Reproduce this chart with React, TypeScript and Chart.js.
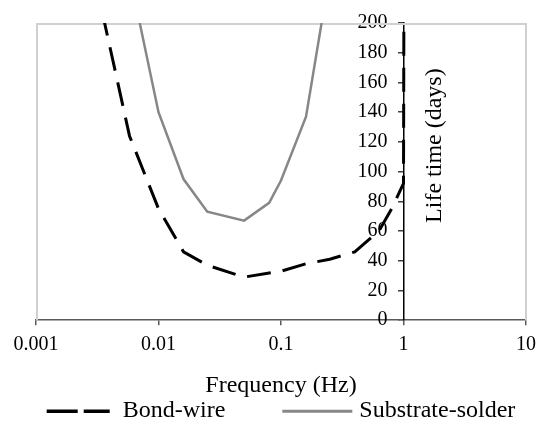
import React, { useEffect, useRef } from 'react';
import { Chart, registerables } from 'chart.js';

Chart.register(...registerables);

// ---- data ----
const bondFreq = [0.003, 0.0058, 0.01, 0.016, 0.025, 0.05, 0.1, 0.16, 0.25, 0.4, 0.63, 0.8, 1.0, 1.02];
const bondLife = [231, 124, 75, 46, 37, 29, 33, 38, 41, 46, 60, 75, 92, 400];
const solderFreq = [0.00625, 0.01, 0.016, 0.025, 0.05, 0.08, 0.1, 0.16, 0.25];
const solderLife = [220, 140, 95, 73, 67, 79, 94, 137, 233];
const xTickValues = [0.001, 0.01, 0.1, 1, 10];
const seriesLabels = ['Bond-wire', 'Substrate-solder'];
const xTitle = 'Frequency (Hz)';
const yTitle = 'Life time (days)';
const yMin = 0;
const yMax = 200;
const yStep = 20;
const yAxisCrossAt = 1;

const FONT = '"Liberation Serif", "Times New Roman", serif';
const Y_TICK_LEN = 5;
const Y_TICK_PAD = 11;

const framePlugin = {
  id: 'frame',
  beforeDatasetsDraw(chart: any) {
    const { ctx, chartArea } = chart;
    const { left, top, right, bottom } = chartArea;
    ctx.save();
    ctx.strokeStyle = '#d0d0d0';
    ctx.lineWidth = 2;
    ctx.beginPath();
    ctx.moveTo(left + 1, bottom);
    ctx.lineTo(left + 1, top + 1);
    ctx.lineTo(right, top + 1);
    ctx.lineTo(right, bottom);
    ctx.stroke();
    ctx.restore();
  },
};

// Chart.js puts labels of an axis positioned at a value right on the axis line;
// move them left of the tick marks.
const yLabelOffsetPlugin = {
  id: 'yLabelOffset',
  beforeDraw(chart: any) {
    const ys = chart.scales.y;
    if (!ys || typeof ys.getLabelItems !== 'function') return;
    const items = ys.getLabelItems();
    if (!items || items._shifted) return;
    items.forEach((it: any) => {
      if (it.options && it.options.translation) {
        it.options.translation[0] -= Y_TICK_LEN + Y_TICK_PAD;
      }
    });
    items._shifted = true;
  },
};

const yTitlePlugin = {
  id: 'yTitleRight',
  afterDraw(chart: any) {
    const { ctx, chartArea } = chart;
    const xs = chart.scales.x;
    const x = xs.getPixelForValue(yAxisCrossAt) + 31;
    const y = (chartArea.top + chartArea.bottom) / 2 - 26;
    ctx.save();
    ctx.translate(x, y);
    ctx.rotate(-Math.PI / 2);
    ctx.font = `24px ${FONT}`;
    ctx.fillStyle = '#000';
    ctx.textAlign = 'center';
    ctx.textBaseline = 'middle';
    ctx.fillText(yTitle, 0, 0);
    ctx.restore();
  },
};

const legendPlugin = {
  id: 'lineLegend',
  afterDraw(chart: any) {
    const { ctx, chartArea } = chart;
    const datasets = chart.data.datasets;
    const lineLens = [63, 70];
    const textGaps = [13, 7];
    const itemGap = 57;
    const legendLineWidths = [3.5, 3];
    const legendDashes = [[31, 6], []];
    ctx.save();
    ctx.font = `24px ${FONT}`;
    const widths = datasets.map((d: any) => ctx.measureText(d.label).width);
    let total = 0;
    datasets.forEach((_d: any, i: number) => {
      total += lineLens[i] + textGaps[i] + widths[i];
    });
    total += itemGap * (datasets.length - 1);
    let x = (chartArea.left + chartArea.right) / 2 - total / 2;
    const y = chartArea.bottom + 91;
    datasets.forEach((d: any, i: number) => {
      ctx.strokeStyle = d.borderColor;
      ctx.lineWidth = legendLineWidths[i];
      ctx.setLineDash(legendDashes[i]);
      ctx.lineCap = 'butt';
      ctx.beginPath();
      ctx.moveTo(x, y);
      ctx.lineTo(x + lineLens[i], y);
      ctx.stroke();
      ctx.setLineDash([]);
      x += lineLens[i] + textGaps[i];
      ctx.fillStyle = '#000';
      ctx.textAlign = 'left';
      ctx.textBaseline = 'middle';
      ctx.fillText(d.label, x, y);
      x += widths[i] + itemGap;
    });
    ctx.restore();
  },
};

export default function App() {
  const canvasRef = useRef<HTMLCanvasElement | null>(null);

  useEffect(() => {
    const canvas = canvasRef.current;
    if (!canvas) return;
    const chart = new Chart(canvas, {
      type: 'line',
      data: {
        datasets: [
          {
            label: seriesLabels[0],
            data: bondFreq.map((f, i) => ({ x: f, y: bondLife[i] })),
            borderColor: '#000000',
            borderWidth: 3,
            borderDash: [24, 12],
            pointRadius: 0,
            tension: 0,
            fill: false,
            clip: 0,
          },
          {
            label: seriesLabels[1],
            data: solderFreq.map((f, i) => ({ x: f, y: solderLife[i] })),
            borderColor: '#878787',
            borderWidth: 2.5,
            pointRadius: 0,
            tension: 0,
            fill: false,
            clip: 0,
          },
        ],
      },
      options: {
        responsive: false,
        animation: false,
        layout: { padding: { left: 36, right: 13, top: 14, bottom: 32 } },
        plugins: {
          legend: { display: false },
          tooltip: { enabled: false },
        },
        scales: {
          x: {
            type: 'logarithmic',
            min: xTickValues[0],
            max: xTickValues[xTickValues.length - 1],
            afterBuildTicks: (s: any) => {
              s.ticks = xTickValues.map((v) => ({ value: v }));
            },
            ticks: {
              callback: (v: any) => String(v),
              font: { family: FONT, size: 20 },
              color: '#000',
              padding: 8,
              maxRotation: 0,
              autoSkip: false,
            },
            grid: { drawOnChartArea: false, drawTicks: true, tickLength: 5, color: '#595959', lineWidth: 1.5 },
            border: { color: '#595959', width: 1.5 },
            title: {
              display: true,
              text: xTitle,
              font: { family: FONT, size: 24 },
              color: '#000',
              padding: { top: 6, bottom: 0 },
            },
          },
          y: {
            type: 'linear',
            min: yMin,
            max: yMax,
            position: { x: yAxisCrossAt } as any,
            ticks: {
              stepSize: yStep,
              font: { family: FONT, size: 20 },
              color: '#000',
              padding: Y_TICK_PAD,
            },
            grid: { drawOnChartArea: false, drawTicks: true, tickLength: Y_TICK_LEN, color: '#404040', lineWidth: 1.5 },
            border: { color: '#000', width: 1.5 },
          },
        },
      },
      plugins: [framePlugin, yLabelOffsetPlugin, yTitlePlugin, legendPlugin],
    } as any);
    return () => chart.destroy();
  }, []);

  return (
    <div style={{ position: 'absolute', left: 0, top: 0, width: 544, height: 432, background: '#fff' }}>
      <canvas ref={canvasRef} width={544} height={432} />
    </div>
  );
}
